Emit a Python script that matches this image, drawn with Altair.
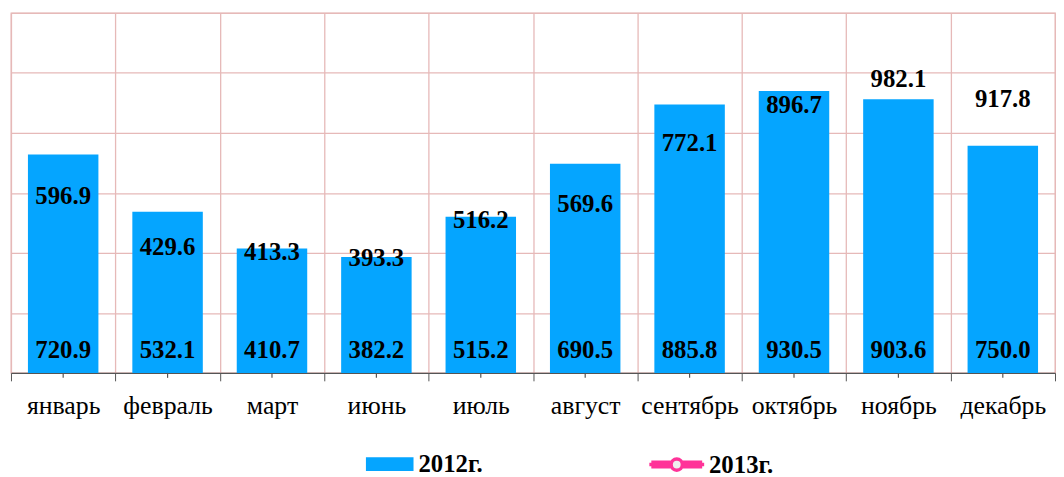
import altair as alt
import pandas as pd

months = ["январь", "февраль", "март", "июнь", "июль", "август",
          "сентябрь", "октябрь", "ноябрь", "декабрь"]
v2012 = [720.9, 532.1, 410.7, 382.2, 515.2, 690.5, 885.8, 930.5, 903.6, 750.0]
v2013 = [596.9, 429.6, 413.3, 393.3, 516.2, 569.6, 772.1, 896.7, 982.1, 917.8]
series_names = ["2012г.", "2013г."]
y_max = 1188
y_grid = [0, 198, 396, 594, 792, 990, 1188]

df = pd.DataFrame({"month": months, "v2012": v2012, "v2013": v2013})

FONT = "Liberation Serif"
BLUE = "#05A5FF"
PINK = "#FF3399"
GRID = "#E6B9B8"
AXIS = "#555555"

x_enc = alt.X(
    "month:N", sort=months, title=None,
    scale=alt.Scale(paddingInner=0, paddingOuter=0),
    axis=alt.Axis(labelAngle=0, labelFont=FONT, labelFontSize=26, labelColor="black",
                  labelBaseline="alphabetic", labelPadding=33, tickBand="extent",
                  tickSize=8, tickColor=AXIS, domainColor=AXIS, domainWidth=1.2,
                  grid=True, gridColor=GRID, gridWidth=1.3),
)
yscale = alt.Scale(domain=[0, y_max], nice=False)

base = alt.Chart(df)

LINE_SYMBOL = ("M-0.97,0H-0.2M0.2,0H0.97"
               "M-0.9,-0.08H-0.2M0.2,-0.08H0.9"
               "M-0.9,0.08H-0.2M0.2,0.08H0.9"
               "M0.2,0A0.2,0.2,0,1,1,-0.2,0A0.2,0.2,0,1,1,0.2,0")

bars = base.mark_bar(width=alt.RelativeBandSize(0.675)).encode(
    x=x_enc,
    y=alt.Y("v2012:Q", scale=yscale, title=None,
            axis=alt.Axis(values=y_grid, labels=False, ticks=False, domain=False,
                          grid=True, gridColor=GRID, gridWidth=1.3)),
    fill=alt.Fill("s12:N",
                  scale=alt.Scale(domain=[series_names[0]], range=[BLUE]),
                  legend=alt.Legend(title=None, orient="none", legendX=358, legendY=431,
                                    symbolType="M-1,-0.29H1V0.29H-1Z", symbolSize=2304,
                                    symbolStrokeWidth=0,
                                    labelFont=FONT, labelFontSize=25, labelFontWeight="bold",
                                    labelColor="black", labelOffset=5)),
).transform_calculate(s12="'" + series_names[0] + "'")

line13 = base.mark_line(strokeOpacity=0).encode(
    x=alt.X("month:N", sort=months),
    y=alt.Y("v2013:Q", scale=yscale),
    stroke=alt.Stroke("s13:N",
                      scale=alt.Scale(domain=[series_names[1]], range=[PINK]),
                      legend=alt.Legend(title=None, orient="none", legendX=641, legendY=425,
                                        symbolType=LINE_SYMBOL,
                                        symbolSize=3249, symbolOpacity=1,
                                        symbolFillColor="#EEEEEE", symbolStrokeWidth=3.5,
                                        labelFont=FONT, labelFontSize=25, labelFontWeight="bold",
                                        labelColor="black", labelOffset=2)),
).transform_calculate(s13="'" + series_names[1] + "'")

center_ticks = base.mark_rule(color=AXIS, strokeWidth=1.2).encode(
    x=alt.X("month:N", sort=months),
    y=alt.value(363),
    y2=alt.value(368),
)

t12 = base.mark_text(font=FONT, fontSize=25, fontWeight="bold", color="black",
                     baseline="alphabetic", dy=-15).encode(
    x=alt.X("month:N", sort=months),
    y=alt.datum(0),
    text=alt.Text("v2012:Q", format=".1f"),
)

t13 = base.mark_text(font=FONT, fontSize=25, fontWeight="bold", color="black",
                     baseline="middle", dy=4).encode(
    x=alt.X("month:N", sort=months),
    y=alt.Y("v2013:Q", scale=yscale),
    text=alt.Text("v2013:Q", format=".1f"),
)

chart = alt.layer(bars, line13, center_ticks, t12, t13).properties(
    width=1053, height=363,
    padding={"left": 2, "top": 3, "right": 0, "bottom": 0},
    background="white",
).configure_view(stroke=GRID, strokeWidth=1.3)

chart.save("out.html", embed_options={"renderer": "svg", "actions": False})
